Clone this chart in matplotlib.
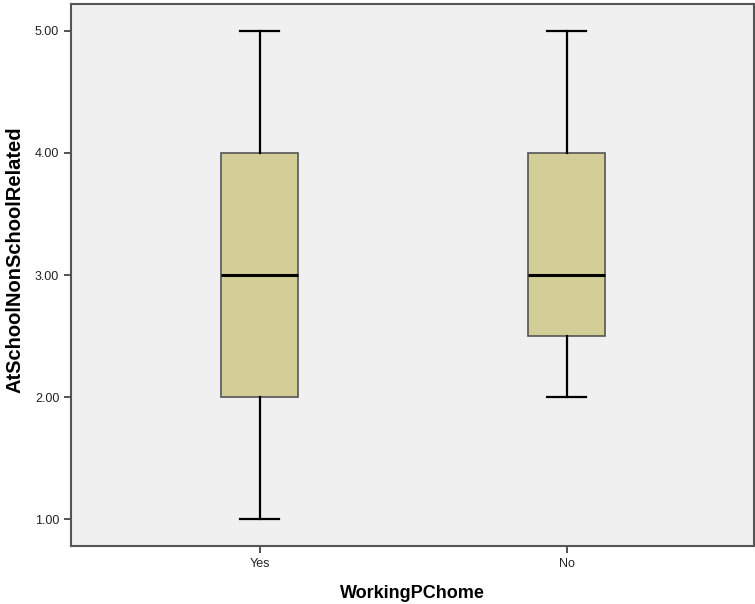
import matplotlib
matplotlib.use("Agg")
import matplotlib.pyplot as plt

plt.rcParams["font.family"] = ["Liberation Sans", "DejaVu Sans"]

groups = ["Yes", "No"]
whisker_low = [1.0, 2.0]
q1 = [2.0, 2.5]
median = [3.0, 3.0]
q3 = [4.0, 4.0]
whisker_high = [5.0, 5.0]
yticks = [1.0, 2.0, 3.0, 4.0, 5.0]

fig = plt.figure(figsize=(7.55, 6.04), dpi=100)
ax = fig.add_axes([71 / 755, 58 / 604, 683 / 755, 542 / 604])
ax.set_facecolor("#f0f0f0")

stats = []
for i, g in enumerate(groups):
    stats.append(dict(label=g, whislo=whisker_low[i], q1=q1[i], med=median[i],
                      q3=q3[i], whishi=whisker_high[i], fliers=[]))

ax.bxp(stats, positions=[1, 2], widths=0.25, patch_artist=True, showfliers=False,
       boxprops=dict(facecolor="#d3ce97", edgecolor="#555555", linewidth=1.2),
       medianprops=dict(color="black", linewidth=2.2),
       whiskerprops=dict(color="black", linewidth=1.6),
       capprops=dict(color="black", linewidth=1.6),
       capwidths=0.127)

ax.set_xlim(0.385, 2.61)
ax.set_ylim(0.78, 5.22)
ax.set_yticks(yticks)
ax.set_yticklabels(["%.2f" % v for v in yticks], fontsize=9, color="#222222")
ax.set_xticks([1, 2])
ax.set_xticklabels(groups, fontsize=9, color="#222222")
ax.tick_params(axis="both", length=5, width=1.2, color="#333333")

for s in ax.spines.values():
    s.set_color("#555555")
    s.set_linewidth(1.5)

ax.set_xlabel("WorkingPChome", fontsize=13, fontweight="bold", labelpad=11)
ax.set_ylabel("AtSchoolNonSchoolRelated", fontsize=14.5, fontweight="bold")
ax.yaxis.set_label_coords(-0.068, 0.528)

fig.savefig("out.png", dpi=100)
